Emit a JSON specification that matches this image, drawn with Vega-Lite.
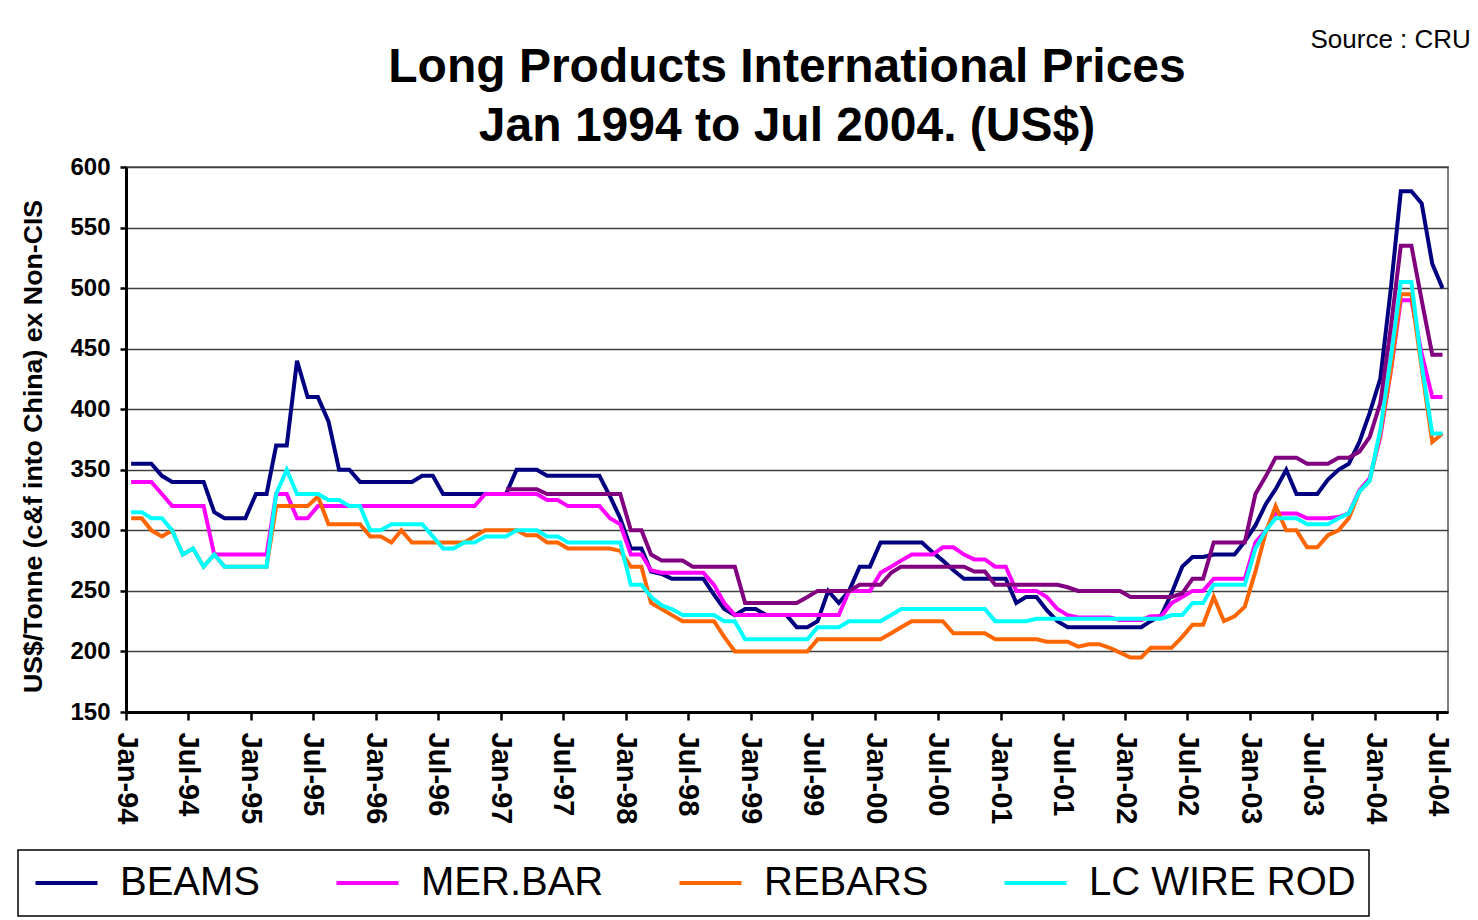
{
  "$schema": "https://vega.github.io/schema/vega-lite/v6.json",
  "width": 1322,
  "height": 545,
  "autosize": {"type": "none"},
  "padding": {"left": 126, "top": 167, "right": 30, "bottom": 208},
  "background": "white",
  "title": {
    "text": ["Long Products International Prices", "Jan 1994 to Jul 2004. (US$)"],
    "font": "Liberation Sans",
    "fontSize": 48,
    "fontWeight": "bold",
    "lineHeight": 59,
    "color": "black",
    "anchor": "middle",
    "frame": "group",
    "offset": -125
  },
  "config": {
    "view": {"stroke": "#808080", "strokeWidth": 2},
    "font": "Liberation Sans",
    "axis": {"labelColor": "black", "titleColor": "black", "domainColor": "black", "tickColor": "black"},
    "legend": {
      "orient": "none",
      "legendX": -108,
      "legendY": 683,
      "direction": "horizontal",
      "columns": 4,
      "gridAlign": "each",
      "padding": 13,
      "strokeColor": "black",
      "strokeWidth": 1.5,
      "fillColor": "white",
      "symbolType": "M-1,0H3",
      "symbolSize": 961,
      "symbolStrokeWidth": 4,
      "labelFont": "Liberation Sans",
      "labelFontSize": 40,
      "labelColor": "black",
      "labelOffset": 49,
      "columnPadding": 67,
      "labelLimit": 400
    }
  },
  "resolve": {"scale": {"y": "shared"}, "axis": {"y": "independent"}},
  "data": {
    "values": [
      {"d":"1994-01-16","b":355,"m":340,"r":310,"c":315},
      {"d":"1994-02-16","b":355,"m":340,"r":310,"c":315},
      {"d":"1994-03-16","b":355,"m":340,"r":300,"c":310},
      {"d":"1994-04-16","b":345,"m":330,"r":295,"c":310},
      {"d":"1994-05-16","b":340,"m":320,"r":300,"c":300},
      {"d":"1994-06-16","b":340,"m":320,"r":280,"c":280},
      {"d":"1994-07-16","b":340,"m":320,"r":285,"c":285},
      {"d":"1994-08-16","b":340,"m":320,"r":270,"c":270},
      {"d":"1994-09-16","b":315,"m":280,"r":280,"c":280},
      {"d":"1994-10-16","b":310,"m":280,"r":270,"c":270},
      {"d":"1994-11-16","b":310,"m":280,"r":270,"c":270},
      {"d":"1994-12-16","b":310,"m":280,"r":270,"c":270},
      {"d":"1995-01-16","b":330,"m":280,"r":270,"c":270},
      {"d":"1995-02-16","b":330,"m":280,"r":270,"c":270},
      {"d":"1995-03-16","b":370,"m":330,"r":320,"c":330},
      {"d":"1995-04-16","b":370,"m":330,"r":320,"c":350},
      {"d":"1995-05-16","b":440,"m":310,"r":320,"c":330},
      {"d":"1995-06-16","b":410,"m":310,"r":320,"c":330},
      {"d":"1995-07-16","b":410,"m":320,"r":328,"c":330},
      {"d":"1995-08-16","b":390,"m":320,"r":305,"c":325},
      {"d":"1995-09-16","b":350,"m":320,"r":305,"c":325},
      {"d":"1995-10-16","b":350,"m":320,"r":305,"c":320},
      {"d":"1995-11-16","b":340,"m":320,"r":305,"c":320},
      {"d":"1995-12-16","b":340,"m":320,"r":295,"c":300},
      {"d":"1996-01-16","b":340,"m":320,"r":295,"c":300},
      {"d":"1996-02-16","b":340,"m":320,"r":290,"c":305},
      {"d":"1996-03-16","b":340,"m":320,"r":300,"c":305},
      {"d":"1996-04-16","b":340,"m":320,"r":290,"c":305},
      {"d":"1996-05-16","b":345,"m":320,"r":290,"c":305},
      {"d":"1996-06-16","b":345,"m":320,"r":290,"c":295},
      {"d":"1996-07-16","b":330,"m":320,"r":290,"c":285},
      {"d":"1996-08-16","b":330,"m":320,"r":290,"c":285},
      {"d":"1996-09-16","b":330,"m":320,"r":290,"c":290},
      {"d":"1996-10-16","b":330,"m":320,"r":295,"c":290},
      {"d":"1996-11-16","b":330,"m":330,"r":300,"c":295},
      {"d":"1996-12-16","b":330,"m":330,"r":300,"c":295},
      {"d":"1997-01-16","b":330,"m":330,"r":300,"c":295,"o":334},
      {"d":"1997-02-16","b":350,"m":330,"r":300,"c":300,"o":334},
      {"d":"1997-03-16","b":350,"m":330,"r":296,"c":300,"o":334},
      {"d":"1997-04-16","b":350,"m":330,"r":296,"c":300,"o":334},
      {"d":"1997-05-16","b":345,"m":325,"r":290,"c":295,"o":330},
      {"d":"1997-06-16","b":345,"m":325,"r":290,"c":295,"o":330},
      {"d":"1997-07-16","b":345,"m":320,"r":285,"c":290,"o":330},
      {"d":"1997-08-16","b":345,"m":320,"r":285,"c":290,"o":330},
      {"d":"1997-09-16","b":345,"m":320,"r":285,"c":290,"o":330},
      {"d":"1997-10-16","b":345,"m":320,"r":285,"c":290,"o":330},
      {"d":"1997-11-16","b":328,"m":310,"r":285,"c":290,"o":330},
      {"d":"1997-12-16","b":310,"m":305,"r":283,"c":290,"o":330},
      {"d":"1998-01-16","b":285,"m":280,"r":270,"c":255,"o":300},
      {"d":"1998-02-16","b":285,"m":280,"r":270,"c":255,"o":300},
      {"d":"1998-03-16","b":266,"m":267,"r":240,"c":245,"o":280},
      {"d":"1998-04-16","b":264,"m":265,"r":235,"c":238,"o":275},
      {"d":"1998-05-16","b":260,"m":265,"r":230,"c":235,"o":275},
      {"d":"1998-06-16","b":260,"m":265,"r":225,"c":230,"o":275},
      {"d":"1998-07-16","b":260,"m":265,"r":225,"c":230,"o":270},
      {"d":"1998-08-16","b":260,"m":265,"r":225,"c":230,"o":270},
      {"d":"1998-09-16","b":247,"m":255,"r":225,"c":230,"o":270},
      {"d":"1998-10-16","b":235,"m":240,"r":212,"c":225,"o":270},
      {"d":"1998-11-16","b":230,"m":230,"r":200,"c":225,"o":270},
      {"d":"1998-12-16","b":235,"m":230,"r":200,"c":210,"o":240},
      {"d":"1999-01-16","b":235,"m":230,"r":200,"c":210,"o":240},
      {"d":"1999-02-16","b":230,"m":230,"r":200,"c":210,"o":240},
      {"d":"1999-03-16","b":230,"m":230,"r":200,"c":210,"o":240},
      {"d":"1999-04-16","b":230,"m":230,"r":200,"c":210,"o":240},
      {"d":"1999-05-16","b":220,"m":230,"r":200,"c":210,"o":240},
      {"d":"1999-06-16","b":220,"m":230,"r":200,"c":210,"o":245},
      {"d":"1999-07-16","b":225,"m":230,"r":210,"c":220,"o":250},
      {"d":"1999-08-16","b":250,"m":230,"r":210,"c":220,"o":250},
      {"d":"1999-09-16","b":240,"m":230,"r":210,"c":220,"o":250},
      {"d":"1999-10-16","b":250,"m":250,"r":210,"c":225,"o":250},
      {"d":"1999-11-16","b":270,"m":250,"r":210,"c":225,"o":255},
      {"d":"1999-12-16","b":270,"m":250,"r":210,"c":225,"o":255},
      {"d":"2000-01-16","b":290,"m":265,"r":210,"c":225,"o":255},
      {"d":"2000-02-16","b":290,"m":270,"r":215,"c":230,"o":265},
      {"d":"2000-03-16","b":290,"m":275,"r":220,"c":235,"o":270},
      {"d":"2000-04-16","b":290,"m":280,"r":225,"c":235,"o":270},
      {"d":"2000-05-16","b":290,"m":280,"r":225,"c":235,"o":270},
      {"d":"2000-06-16","b":282,"m":280,"r":225,"c":235,"o":270},
      {"d":"2000-07-16","b":275,"m":286,"r":225,"c":235,"o":270},
      {"d":"2000-08-16","b":267,"m":286,"r":215,"c":235,"o":270},
      {"d":"2000-09-16","b":260,"m":280,"r":215,"c":235,"o":270},
      {"d":"2000-10-16","b":260,"m":276,"r":215,"c":235,"o":266},
      {"d":"2000-11-16","b":260,"m":276,"r":215,"c":235,"o":266},
      {"d":"2000-12-16","b":260,"m":270,"r":210,"c":225,"o":255},
      {"d":"2001-01-16","b":260,"m":270,"r":210,"c":225,"o":255},
      {"d":"2001-02-16","b":240,"m":250,"r":210,"c":225,"o":255},
      {"d":"2001-03-16","b":245,"m":250,"r":210,"c":225,"o":255},
      {"d":"2001-04-16","b":245,"m":250,"r":210,"c":227,"o":255},
      {"d":"2001-05-16","b":234,"m":245,"r":208,"c":227,"o":255},
      {"d":"2001-06-16","b":225,"m":235,"r":208,"c":227,"o":255},
      {"d":"2001-07-16","b":220,"m":230,"r":208,"c":227,"o":253},
      {"d":"2001-08-16","b":220,"m":228,"r":204,"c":227,"o":250},
      {"d":"2001-09-16","b":220,"m":228,"r":206,"c":227,"o":250},
      {"d":"2001-10-16","b":220,"m":228,"r":206,"c":227,"o":250},
      {"d":"2001-11-16","b":220,"m":228,"r":203,"c":227,"o":250},
      {"d":"2001-12-16","b":220,"m":226,"r":199,"c":227,"o":250},
      {"d":"2002-01-16","b":220,"m":226,"r":195,"c":227,"o":245},
      {"d":"2002-02-16","b":220,"m":226,"r":195,"c":227,"o":245},
      {"d":"2002-03-16","b":225,"m":229,"r":203,"c":227,"o":245},
      {"d":"2002-04-16","b":230,"m":229,"r":203,"c":227,"o":245},
      {"d":"2002-05-16","b":248,"m":240,"r":203,"c":230,"o":245},
      {"d":"2002-06-16","b":270,"m":245,"r":212,"c":230,"o":248},
      {"d":"2002-07-16","b":278,"m":250,"r":222,"c":240,"o":260},
      {"d":"2002-08-16","b":278,"m":250,"r":222,"c":240,"o":260},
      {"d":"2002-09-16","b":280,"m":260,"r":245,"c":255,"o":290},
      {"d":"2002-10-16","b":280,"m":260,"r":225,"c":255,"o":290},
      {"d":"2002-11-16","b":280,"m":260,"r":229,"c":255,"o":290},
      {"d":"2002-12-16","b":291,"m":260,"r":237,"c":255,"o":290},
      {"d":"2003-01-16","b":304,"m":290,"r":266,"c":285,"o":330},
      {"d":"2003-02-16","b":322,"m":300,"r":299,"c":300,"o":345},
      {"d":"2003-03-16","b":334,"m":314,"r":320,"c":310,"o":360},
      {"d":"2003-04-16","b":350,"m":314,"r":300,"c":310,"o":360},
      {"d":"2003-05-16","b":330,"m":314,"r":300,"c":310,"o":360},
      {"d":"2003-06-16","b":330,"m":310,"r":286,"c":305,"o":355},
      {"d":"2003-07-16","b":330,"m":310,"r":286,"c":305,"o":355},
      {"d":"2003-08-16","b":342,"m":310,"r":296,"c":305,"o":355},
      {"d":"2003-09-16","b":350,"m":311,"r":300,"c":310,"o":360},
      {"d":"2003-10-16","b":355,"m":314,"r":310,"c":314,"o":360},
      {"d":"2003-11-16","b":373,"m":333,"r":332,"c":332,"o":365},
      {"d":"2003-12-16","b":397,"m":343,"r":341,"c":341,"o":377},
      {"d":"2004-01-16","b":425,"m":377,"r":380,"c":383,"o":405},
      {"d":"2004-02-16","b":500,"m":432,"r":432,"c":443,"o":468},
      {"d":"2004-03-16","b":580,"m":490,"r":495,"c":505,"o":535},
      {"d":"2004-04-16","b":580,"m":490,"r":495,"c":505,"o":535},
      {"d":"2004-05-16","b":570,"m":446,"r":434,"c":437,"o":490},
      {"d":"2004-06-16","b":520,"m":410,"r":373,"c":380,"o":445},
      {"d":"2004-07-16","b":500,"m":410,"r":380,"c":380,"o":445}
    ]
  },
  "encoding": {
    "x": {
      "field": "d",
      "type": "temporal",
      "scale": {
        "type": "utc",
        "domain": [
          {"year": 1994, "month": 1, "date": 1, "utc": true},
          {"year": 2004, "month": 8, "date": 1, "utc": true}
        ]
      },
      "axis": {
        "title": null,
        "grid": false,
        "values": [
          {"year":1994,"month":1,"date":1,"utc":true},{"year":1994,"month":7,"date":1,"utc":true},
          {"year":1995,"month":1,"date":1,"utc":true},{"year":1995,"month":7,"date":1,"utc":true},
          {"year":1996,"month":1,"date":1,"utc":true},{"year":1996,"month":7,"date":1,"utc":true},
          {"year":1997,"month":1,"date":1,"utc":true},{"year":1997,"month":7,"date":1,"utc":true},
          {"year":1998,"month":1,"date":1,"utc":true},{"year":1998,"month":7,"date":1,"utc":true},
          {"year":1999,"month":1,"date":1,"utc":true},{"year":1999,"month":7,"date":1,"utc":true},
          {"year":2000,"month":1,"date":1,"utc":true},{"year":2000,"month":7,"date":1,"utc":true},
          {"year":2001,"month":1,"date":1,"utc":true},{"year":2001,"month":7,"date":1,"utc":true},
          {"year":2002,"month":1,"date":1,"utc":true},{"year":2002,"month":7,"date":1,"utc":true},
          {"year":2003,"month":1,"date":1,"utc":true},{"year":2003,"month":7,"date":1,"utc":true},
          {"year":2004,"month":1,"date":1,"utc":true},{"year":2004,"month":7,"date":1,"utc":true}
        ],
        "labelExpr": "utcFormat(datum.value, '%b-%y')",
        "labelAngle": 90,
        "labelFont": "Liberation Sans",
        "labelFontSize": 29,
        "labelFontWeight": "bold",
        "labelPadding": 12,
        "labelFlush": false,
        "labelOverlap": false,
        "tickSize": 8,
        "tickWidth": 2.5,
        "domainWidth": 3
      }
    }
  },
  "layer": [
    {
      "mark": {"type": "line", "strokeWidth": 4},
      "encoding": {
        "y": {
          "field": "b",
          "type": "quantitative",
          "scale": {"domain": [150, 600], "nice": false, "zero": false},
          "axis": {
            "orient": "left",
            "title": "US$/Tonne (c&f into China) ex Non-CIS",
            "titleFont": "Liberation Sans",
            "titleFontSize": 26.7,
            "titleFontWeight": "bold",
            "titlePadding": 22,
            "titleY": 279,
            "values": [150, 200, 250, 300, 350, 400, 450, 500, 550, 600],
            "labelFont": "Liberation Sans",
            "labelFontSize": 24,
            "labelFontWeight": "bold",
            "labelPadding": 10,
            "labelFlush": false,
            "tickSize": 6,
            "tickWidth": 2.5,
            "domainWidth": 3,
            "grid": true,
            "gridColor": "#404040",
            "gridWidth": 1.4
          }
        },
        "color": {
          "datum": "BEAMS",
          "type": "nominal",
          "scale": {
            "domain": ["BEAMS", "MER.BAR", "REBARS", "LC WIRE ROD"],
            "range": ["#000080", "#FF00FF", "#FF6600", "#00FFFF"]
          },
          "legend": {"title": null}
        }
      }
    },
    {
      "mark": {"type": "line", "strokeWidth": 4},
      "encoding": {
        "y": {"field": "m", "type": "quantitative", "axis": null},
        "color": {"datum": "MER.BAR", "type": "nominal"}
      }
    },
    {
      "mark": {"type": "line", "strokeWidth": 4},
      "encoding": {
        "y": {"field": "r", "type": "quantitative", "axis": null},
        "color": {"datum": "REBARS", "type": "nominal"}
      }
    },
    {
      "mark": {"type": "line", "strokeWidth": 4},
      "encoding": {
        "y": {"field": "c", "type": "quantitative", "axis": null},
        "color": {"datum": "LC WIRE ROD", "type": "nominal"}
      }
    },
    {
      "mark": {"type": "line", "strokeWidth": 4, "color": "#800080"},
      "encoding": {
        "y": {
          "field": "o",
          "type": "quantitative",
          "axis": {
            "orient": "right",
            "title": "Source : CRU",
            "domain": false,
            "ticks": false,
            "labels": false,
            "grid": false,
            "titleFont": "Liberation Sans",
            "titleFontSize": 26,
            "titleFontWeight": "normal",
            "titleColor": "black",
            "titleAngle": 0,
            "titleAlign": "left",
            "titleBaseline": "alphabetic",
            "titleX": -138,
            "titleY": -120
          }
        }
      }
    }
  ]
}
